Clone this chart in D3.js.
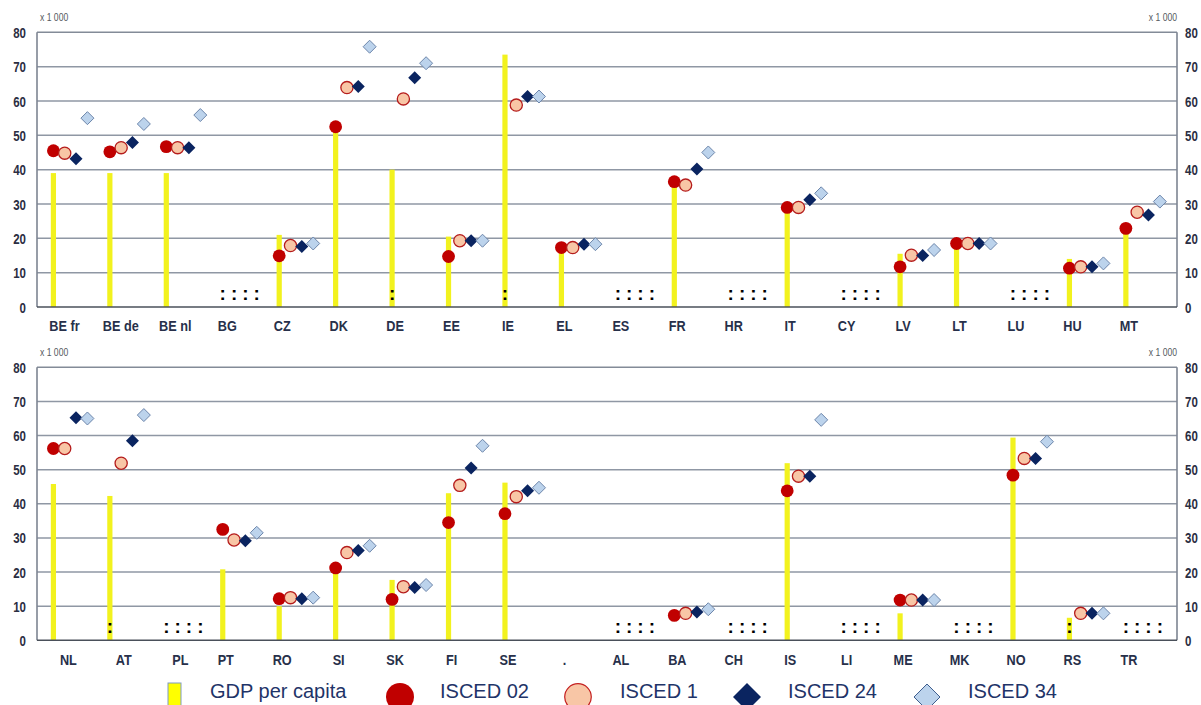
<!DOCTYPE html>
<html>
<head>
<meta charset="utf-8">
<script src="https://cdn.jsdelivr.net/npm/d3@7"></script>
<style>
  html, body { margin: 0; padding: 0; background: #ffffff; }
  svg { display: block; }
</style>
</head>
<body>
<svg id="chart" width="1201" height="705"></svg>
<script>
// ---------- DATA (thousands) ----------
const yTicks = [0, 10, 20, 30, 40, 50, 60, 70, 80];
const unitLabel = "x 1 000";

const topCategories = ["BE fr","BE de","BE nl","BG","CZ","DK","DE","EE","IE","EL","ES","FR","HR","IT","CY","LV","LT","LU","HU","MT"];
const topGDP      = [39, 39, 39, null, 21, 51, 40, 20.5, 73.5, 17, null, 35.5, null, 28.5, null, 15.5, 18, null, 14, 22];
const topISCED02  = [45.5, 45.2, 46.7, null, 14.9, 52.5, null, 14.7, null, 17.3, null, 36.5, null, 29.0, null, 11.7, 18.5, null, 11.3, 22.9];
const topISCED1   = [44.8, 46.4, 46.4, null, 17.9, 63.9, 60.6, 19.3, 58.8, 17.3, null, 35.5, null, 29.0, null, 15.1, 18.5, null, 11.7, 27.6];
const topISCED24  = [43.2, 47.9, 46.4, null, 17.6, 64.2, 66.8, 19.3, 61.3, 18.3, null, 40.2, null, 31.2, null, 15.0, 18.5, null, 11.7, 26.8];
const topISCED34  = [55.0, 53.3, 55.9, null, 18.5, 75.8, 71.0, 19.3, 61.3, 18.3, null, 45.0, null, 33.1, null, 16.6, 18.5, null, 12.7, 30.7];

const bottomCategories = ["NL","AT","PL","PT","RO","SI","SK","FI","SE",".","AL","BA","CH","IS","LI","ME","MK","NO","RS","TR"];
const bottomGDP     = [45.8, 42.3, null, 20.8, 10, 20, 17.7, 43.1, 46.2, null, null, null, null, 51.9, null, 7.9, null, 59.4, 6.6, null];
const bottomISCED02 = [56.2, null, null, 32.5, 12.2, 21.2, 12.0, 34.5, 37.1, null, null, 7.3, null, 43.8, null, 11.8, null, 48.4, null, null];
const bottomISCED1  = [56.2, 51.9, null, 29.4, 12.5, 25.7, 15.7, 45.4, 42.1, null, null, 7.9, null, 48.1, null, 11.8, null, 53.3, 7.9, null];
const bottomISCED24 = [65.2, 58.5, null, 29.2, 12.2, 26.3, 15.5, 50.5, 43.8, null, null, 8.3, null, 48.1, null, 11.8, null, 53.3, 7.9, null];
const bottomISCED34 = [65.0, 66.0, null, 31.5, 12.5, 27.7, 16.2, 57.0, 44.7, null, null, 9.1, null, 64.6, null, 11.8, null, 58.2, 7.9, null];

const legendLabels = ["GDP per capita", "ISCED 02", "ISCED 1", "ISCED 24", "ISCED 34"];

// ---------- STYLE ----------
const FONT = "Liberation Sans, Arial, sans-serif";
const NARROW = 0.82;
const colGDP = "#f2f21e";
const styles = [
  { shape: "circle",  fill: "#c00000", stroke: "none",    sw: 0 },
  { shape: "circle",  fill: "#f8c6a6", stroke: "#b51c1c", sw: 1.3 },
  { shape: "diamond", fill: "#0a2460", stroke: "none",    sw: 0 },
  { shape: "diamond", fill: "#bcd3ec", stroke: "#6d86ab", sw: 1 }
];
const markerOffsets = [0, 11.3, 22.6, 34];
const labelNudge = { "BE fr": 8, "BE de": 8, "BE nl": 6, "BG": 1.5, "NL": 12, "AT": 11, "PL": 11 };

const svg = d3.select("#chart");
const plotLeft = 37, plotRight = 1177;

function diamondPath(cx, cy, h) {
  return `M${cx},${cy - h}L${cx + h},${cy}L${cx},${cy + h}L${cx - h},${cy}Z`;
}

function drawPanel(cats, gdp, series, y0px, y80px, labelBaseline, unitY) {
  const g = svg.append("g");
  const x = d3.scaleBand().domain(cats).range([37.1, 1166]).paddingInner(0).paddingOuter(0);
  const y = d3.scaleLinear().domain([0, 80]).range([y0px, y80px]);
  const bx = c => x(c) + x.bandwidth() * 0.289;

  // gridlines
  g.selectAll("line.grid").data(yTicks.filter(t => t > 0 && t < 80)).join("line")
    .attr("x1", plotLeft).attr("x2", plotRight)
    .attr("y1", d => y(d)).attr("y2", d => y(d))
    .attr("stroke", "#8f97a4").attr("stroke-width", 1.5);
  // frame
  g.append("line").attr("x1", plotLeft).attr("x2", plotRight).attr("y1", y(80)).attr("y2", y(80))
    .attr("stroke", "#838b98").attr("stroke-width", 1.6);
  g.append("line").attr("x1", plotLeft).attr("x2", plotLeft).attr("y1", y(80)).attr("y2", y(0))
    .attr("stroke", "#7d8592").attr("stroke-width", 1.6);
  g.append("line").attr("x1", plotRight).attr("x2", plotRight).attr("y1", y(80)).attr("y2", y(0))
    .attr("stroke", "#7d8592").attr("stroke-width", 1.6);

  // axes labels
  const axL = d3.axisLeft(y).tickValues(yTicks).tickSize(0).tickPadding(0).tickFormat(d3.format("d"));
  const gl = g.append("g").attr("transform", `translate(26,0)`).call(axL);
  gl.select(".domain").remove();
  const axR = d3.axisRight(y).tickValues(yTicks).tickSize(0).tickPadding(0).tickFormat(d3.format("d"));
  const gr = g.append("g").attr("transform", `translate(1185,0)`).call(axR);
  gr.select(".domain").remove();
  g.selectAll(".tick text").attr("x", 0).attr("font-family", FONT).attr("font-size", 14).attr("font-weight", "bold")
    .attr("fill", "#2b2e42").attr("dy", "0.36em").attr("transform", `scale(${NARROW},1)`);

  // unit labels
  g.append("text").attr("transform", `translate(40,${unitY}) scale(${NARROW},1)`)
    .attr("font-family", FONT).attr("font-size", 10.5).attr("fill", "#555a60").text(unitLabel);
  g.append("text").attr("transform", `translate(1177,${unitY}) scale(${NARROW},1)`)
    .attr("font-family", FONT).attr("font-size", 10.5).attr("text-anchor", "end").attr("fill", "#555a60").text(unitLabel);

  // bars
  g.selectAll("rect.gdp").data(cats.map((c, i) => ({ c, v: gdp[i] })).filter(d => d.v != null)).join("rect")
    .attr("x", d => bx(d.c) - 2.6).attr("width", 5.2)
    .attr("y", d => y(d.v)).attr("height", d => y(0) - y(d.v))
    .attr("fill", colGDP);

  // bottom axis line (drawn after bars)
  g.append("line").attr("x1", plotLeft).attr("x2", plotRight).attr("y1", y(0)).attr("y2", y(0))
    .attr("stroke", "#4a505a").attr("stroke-width", 1.6);

  // missing-value markers ":"
  const missing = [];
  cats.forEach((c, i) => {
    if (c === ".") return;
    series.forEach((s, k) => { if (s[i] == null) missing.push({ c, k }); });
  });
  g.selectAll("text.na").data(missing).join("text")
    .attr("x", d => bx(d.c) + markerOffsets[d.k]).attr("y", y(0) - 7.5)
    .attr("text-anchor", "middle").attr("font-family", FONT)
    .attr("font-weight", "bold").attr("font-size", 19).attr("fill", "#000").text(":");

  // markers
  series.forEach((s, k) => {
    const st = styles[k];
    const pts = cats.map((c, i) => ({ c, v: s[i] })).filter(d => d.v != null);
    if (st.shape === "circle") {
      g.selectAll(`circle.s${k}`).data(pts).join("circle")
        .attr("cx", d => bx(d.c) + markerOffsets[k]).attr("cy", d => y(d.v))
        .attr("r", k === 0 ? 6.4 : 6.1)
        .attr("fill", st.fill).attr("stroke", st.stroke).attr("stroke-width", st.sw);
    } else {
      g.selectAll(`path.s${k}`).data(pts).join("path")
        .attr("d", d => diamondPath(bx(d.c) + markerOffsets[k], y(d.v), 6.5))
        .attr("fill", st.fill).attr("stroke", st.stroke).attr("stroke-width", st.sw);
    }
  });

  // category labels
  g.selectAll("text.cat").data(cats).join("text")
    .attr("transform", c => `translate(${bx(c) + 3 + (labelNudge[c] || 0)},${labelBaseline}) scale(${NARROW},1)`)
    .attr("text-anchor", "middle").attr("font-family", FONT).attr("font-size", 15.5).attr("font-weight", "bold")
    .attr("fill", "#27304a").text(c => c);
}

drawPanel(topCategories, topGDP, [topISCED02, topISCED1, topISCED24, topISCED34], 307, 32.3, 331, 21);
drawPanel(bottomCategories, bottomGDP, [bottomISCED02, bottomISCED1, bottomISCED24, bottomISCED34], 640.3, 367.3, 665, 356);

// ---------- LEGEND ----------
const lg = svg.append("g");
const legTextX = [210, 440, 620, 788, 968];
const legSymX = [174.5, 400, 578, 747, 927];
const legY = 697;
lg.append("rect").attr("x", legSymX[0] - 6.5).attr("y", 683).attr("width", 13).attr("height", 26)
  .attr("fill", "#ffff00").attr("stroke", "#7f9cc4").attr("stroke-width", 1);
lg.append("circle").attr("cx", legSymX[1]).attr("cy", legY).attr("r", 14).attr("fill", styles[0].fill);
lg.append("circle").attr("cx", legSymX[2]).attr("cy", legY).attr("r", 13.3).attr("fill", styles[1].fill)
  .attr("stroke", "#c42020").attr("stroke-width", 1.2);
lg.append("path").attr("d", diamondPath(legSymX[3], legY, 14)).attr("fill", styles[2].fill);
lg.append("path").attr("d", diamondPath(legSymX[4], legY, 13)).attr("fill", styles[3].fill)
  .attr("stroke", "#3f5e8e").attr("stroke-width", 1);
lg.selectAll("text.leg").data(legendLabels).join("text")
  .attr("x", (d, i) => legTextX[i]).attr("y", 698)
  .attr("font-family", FONT).attr("font-size", 20)
  .attr("fill", "#1f3468").text(d => d);
</script>
</body>
</html>
